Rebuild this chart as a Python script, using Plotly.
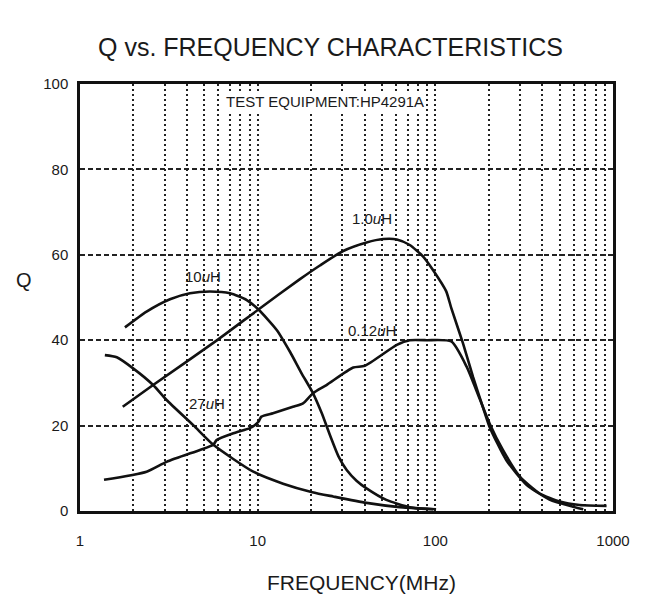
import plotly.graph_objects as go

# ---- data ----
freq_10uH = [1.79, 2.37, 3.21, 4.16, 5.39, 6.99, 8.68, 10.1, 12.8, 15.2, 17.7, 20.3, 22.9, 25.5, 28.5, 31.7, 36, 41, 53, 72, 101]
q_10uH = [43.0, 46.7, 49.6, 51.0, 51.4, 51.0, 49.4, 47.2, 42.4, 37.3, 32.2, 27.9, 23.0, 17.8, 12.8, 9.6, 7.1, 5.3, 2.6, 0.9, 0.4]

freq_1_0uH = [1.74, 2.58, 6.0, 10.1, 17.3, 22.4, 30.3, 41, 50.9, 60.7, 71.8, 85.4, 97.2, 115, 123, 143, 163, 185, 202, 251, 327, 439, 595, 680]
q_1_0uH = [24.4, 29.5, 40.2, 47.2, 54.3, 57.5, 60.9, 62.9, 63.7, 63.6, 62.3, 59.6, 56.4, 51.5, 47.5, 39.3, 31.4, 24.4, 19.7, 11.9, 6.1, 2.7, 1.0, 0.4]

freq_0_12uH = [1.365, 2.37, 3.07, 4.73, 5.63, 5.87, 7.3, 9.03, 9.63, 10.1, 10.5, 12.2, 15.8, 18, 20.5, 24.4, 34.5, 40.1, 60.7, 71.8, 89.5, 123, 150, 170, 202, 240, 300, 387, 502, 648, 920]
q_0_12uH = [7.3, 9.2, 11.5, 14.3, 15.5, 16.6, 18.2, 19.4, 20.1, 20.9, 22.1, 22.9, 24.4, 25.2, 27.6, 29.5, 33.6, 34.0, 38.9, 40.0, 40.0, 39.7, 33.8, 28.3, 20.5, 14.3, 8.0, 4.1, 2.2, 1.4, 1.2]

freq_27uH = [1.38, 1.61, 1.99, 2.58, 3.07, 4.34, 5.63, 9.45, 13.9, 20.3, 26.6, 41, 63, 97.2]
q_27uH = [36.5, 36.0, 33.4, 29.5, 26.0, 20.1, 15.5, 9.2, 6.4, 4.4, 3.4, 1.9, 0.9, 0.4]

x_grid_vals = [1, 2, 3, 4, 5, 6, 7, 8, 9, 10, 20, 30, 40, 50, 60, 70, 80, 90, 100,
               200, 300, 400, 500, 600, 700, 800, 900, 1000]
x_labeled = {1: "1", 10: "10", 100: "100", 1000: "1000"}
y_ticks = [0, 20, 40, 60, 80, 100]

title_text = "Q vs. FREQUENCY CHARACTERISTICS"
x_title = "FREQUENCY(MHz)"
y_title = "Q"
note_text = "TEST EQUIPMENT:HP4291A"
curve_labels = ["1.0<i>u</i>H", "10<i>u</i>H", "0.12<i>u</i>H", "27<i>u</i>H"]

FONT = "Liberation Sans, Arial, sans-serif"
INK = "#1a1a1a"

fig = go.Figure()
for fx, fy in [(freq_10uH, q_10uH), (freq_1_0uH, q_1_0uH), (freq_0_12uH, q_0_12uH), (freq_27uH, q_27uH)]:
    fig.add_trace(go.Scatter(x=fx, y=fy, mode="lines",
                             line=dict(color="#111111", width=2.6, shape="spline", smoothing=0.6),
                             showlegend=False, hoverinfo="skip"))

# page body has an 8px margin; figure is sized so it fits the 646x595 window
OFF = 8
W, H = 646 - OFF, 595 - OFF
# plot area in window pixels: x 80..613, y 84..511
L, R, T, B = 80 - OFF, 613 - OFF, 84 - OFF, 511 - OFF

def px(xp):  # window pixel -> paper x
    return (xp - OFF - L) / (R - L)

def py(yp):  # window pixel -> paper y
    return (B - (yp - OFF)) / (B - T)

fig.update_layout(
    width=W, height=H,
    margin=dict(l=L, r=W - R, t=T, b=H - B),
    paper_bgcolor="white", plot_bgcolor="white",
    font=dict(family=FONT, color=INK, size=15),
    title=dict(text=title_text, x=(98 - OFF) / W, xanchor="left", y=1 - (47 - OFF) / H, yanchor="middle",
               font=dict(size=25, family=FONT, color=INK)),
)
fig.update_xaxes(type="log", range=[0, 3], tickmode="array", tickvals=x_grid_vals,
                 ticktext=[x_labeled.get(v, "") for v in x_grid_vals],
                 showgrid=True, gridcolor="#222222", gridwidth=1.6, griddash="2px,3px",
                 showline=True, linecolor="#111111", linewidth=2.5, mirror=True,
                 ticks="", ticklabelstandoff=14, zeroline=False,
                 tickfont=dict(size=15, family=FONT, color=INK))
fig.update_yaxes(range=[0, 100], tickmode="array", tickvals=y_ticks,
                 showgrid=True, gridcolor="#222222", gridwidth=1.5, griddash="5px,3px",
                 showline=True, linecolor="#111111", linewidth=2.5, mirror=True,
                 ticks="", ticklabelstandoff=6, zeroline=False,
                 tickfont=dict(size=15, family=FONT, color=INK))

ann = [
    dict(text=note_text, x=px(325), y=py(101), size=15),
    dict(text=curve_labels[0], x=px(372), y=py(218), size=15),
    dict(text=curve_labels[1], x=px(203), y=py(276), size=15),
    dict(text=curve_labels[2], x=px(372), y=py(330), size=15),
    dict(text=curve_labels[3], x=px(207), y=py(403), size=15),
]
for a in ann:
    fig.add_annotation(text=a["text"], x=a["x"], y=a["y"], xref="paper", yref="paper",
                       showarrow=False, xanchor="center", yanchor="middle",
                       font=dict(size=a["size"], family=FONT, color=INK),
                       bgcolor="white" if a["text"] == note_text else None)

fig.add_annotation(text=x_title, x=px(265), y=py(582), xref="paper", yref="paper",
                   showarrow=False, xanchor="left", yanchor="middle",
                   font=dict(size=21, family=FONT, color=INK))
fig.add_annotation(text=y_title, x=px(24), y=py(280), xref="paper", yref="paper",
                   showarrow=False, xanchor="center", yanchor="middle",
                   font=dict(size=20, family=FONT, color=INK))

fig.write_html("out.html")
